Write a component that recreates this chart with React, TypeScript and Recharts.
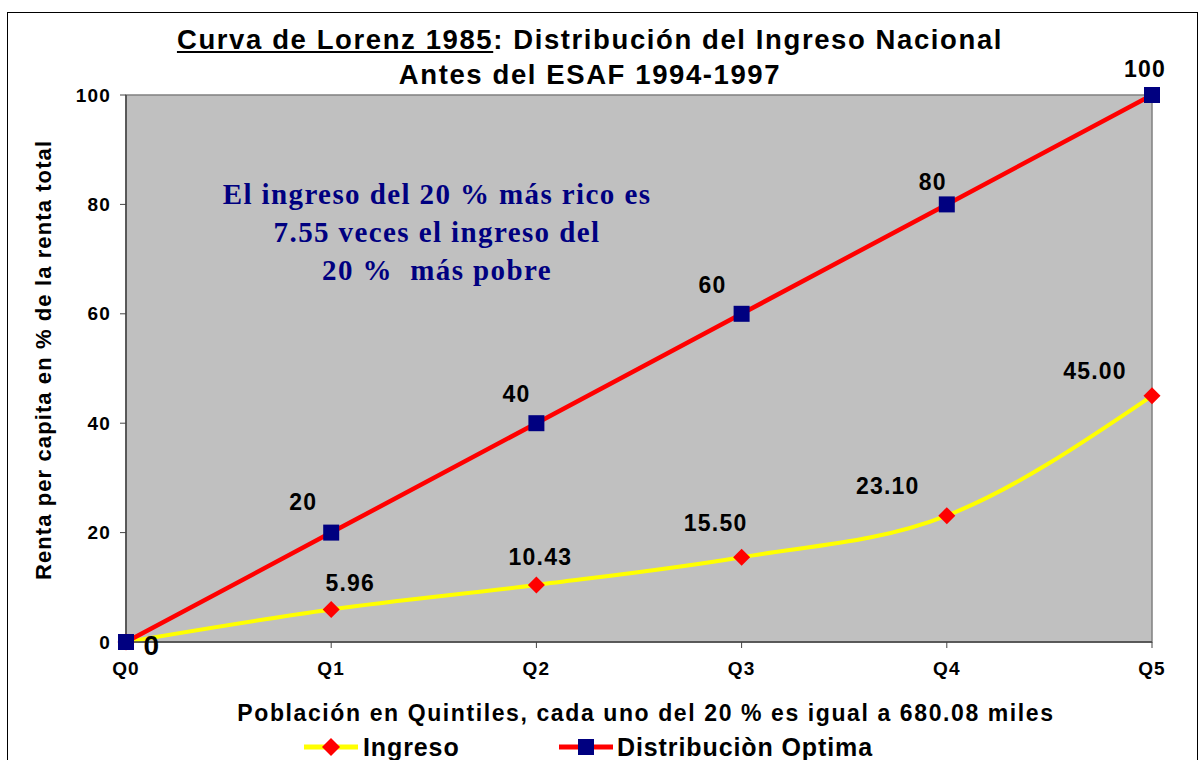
import { LineChart, Line, XAxis, YAxis, ReferenceArea, Legend } from "recharts";

const quintiles = ["Q0", "Q1", "Q2", "Q3", "Q4", "Q5"];
const ingreso = [0, 5.96, 10.43, 15.5, 23.1, 45.0];
const optima = [0, 20, 40, 60, 80, 100];
const yTicks = [0, 20, 40, 60, 80, 100];

// label offsets (dx, dy) from each point, as in the original sheet
const ingresoLabelShift = [[26, 3], [19, -26], [4, -28], [-26, -34], [-59, -30], [-57, -25]];
const optimaLabelShift = [null, [-28, -31], [-20, -29], [-29, -29], [-14, -22], [-7, -26]];

const data = quintiles.map((q, i) => ({ q, ingreso: ingreso[i], optima: optima[i] }));

const FONT = "'Liberation Sans', Arial, sans-serif";
const SERIF = "'Liberation Serif', 'Times New Roman', serif";

const Square = (props: any) => {
  const { cx, cy } = props;
  if (cx == null || cy == null) return null;
  return <rect x={cx - 8} y={cy - 8} width={16} height={16} fill="#000080" />;
};

const Diamond = (props: any) => {
  const { cx, cy } = props;
  if (cx == null || cy == null) return null;
  return (
    <polygon
      points={`${cx},${cy - 8.5} ${cx + 8.5},${cy} ${cx},${cy + 8.5} ${cx - 8.5},${cy}`}
      fill="#FF0000"
    />
  );
};

const makeLabel = (shift: (number[] | null)[], fmt: (v: number) => string) => (props: any) => {
  const { x, y, index, value } = props;
  const s = shift[index];
  if (!s) return null;
  const big = value === 0;
  return (
    <text
      x={x + s[0]}
      y={y + s[1]}
      textAnchor="middle"
      dominantBaseline="central"
      fontFamily={FONT}
      fontWeight="bold"
      fontSize={big ? 28 : 23}
      letterSpacing={1.2}
      fill="#000"
    >
      {fmt(value)}
    </text>
  );
};

const tickStyle = {
  fontFamily: FONT,
  fontWeight: 700,
  fontSize: 19,
  letterSpacing: 1.2,
  fill: "#000",
};

const renderXTick = (props: any) => (
  <text
    key={`xt-${props.index}`}
    x={props.x}
    y={668}
    textAnchor="middle"
    dominantBaseline="central"
    style={tickStyle}
  >
    {props.payload.value}
  </text>
);

const renderYTick = (props: any) => (
  <text
    key={`yt-${props.index}`}
    x={111}
    y={props.y}
    textAnchor="end"
    dominantBaseline="central"
    style={tickStyle}
  >
    {props.payload.value}
  </text>
);

const LegendBox = () => (
  <div
    style={{
      position: "relative",
      height: 26,
      fontFamily: FONT,
      fontWeight: "bold",
      fontSize: 25,
      letterSpacing: 0.9,
      color: "#000",
    }}
  >
    <svg width={54} height={22} style={{ position: "absolute", left: 304, top: 2 }}>
      <line x1={0} y1={11} x2={54} y2={11} stroke="#FFFF00" strokeWidth={5} />
      <polygon points="27,2 36,11 27,20 18,11" fill="#FF0000" />
    </svg>
    <span style={{ position: "absolute", left: 363, top: -2, lineHeight: "30px" }}>Ingreso</span>
    <svg width={54} height={22} style={{ position: "absolute", left: 559, top: 2 }}>
      <line x1={0} y1={11} x2={54} y2={11} stroke="#FF0000" strokeWidth={5} />
      <rect x={19} y={3} width={16} height={16} fill="#000080" />
    </svg>
    <span style={{ position: "absolute", left: 617, top: -2, lineHeight: "30px", whiteSpace: "nowrap" }}>
      Distribuciòn Optima
    </span>
  </div>
);

export default function App() {
  return (
    <div
      style={{
        position: "absolute",
        left: 0,
        top: 0,
        width: 1198,
        height: 760,
        overflow: "hidden",
        background: "#fff",
      }}
    >
      <div
        style={{
          position: "absolute",
          left: 7,
          top: 12,
          width: 1189,
          height: 800,
          border: "1.5px solid #000",
        }}
      />
      <div
        style={{
          position: "absolute",
          left: 0,
          top: 22,
          width: 1180,
          textAlign: "center",
          fontFamily: FONT,
          fontWeight: "bold",
          fontSize: 27.5,
          letterSpacing: 1.6,
          lineHeight: "35px",
          color: "#000",
        }}
      >
        <div>
          <span style={{ textDecoration: "underline" }}>Curva de Lorenz 1985</span>: Distribución del Ingreso Nacional
        </div>
        <div>Antes del ESAF 1994-1997</div>
      </div>
      <LineChart
        width={1198}
        height={760}
        data={data}
        margin={{ top: 95, right: 46, left: 66, bottom: 62 }}
        style={{ position: "absolute", left: 0, top: 0 }}
      >
        <ReferenceArea
          x1="Q0"
          x2="Q5"
          y1={0}
          y2={100}
          fill="#C0C0C0"
          fillOpacity={1}
          stroke="#808080"
          strokeWidth={1.5}
        />
        <XAxis
          dataKey="q"
          height={30}
          axisLine={{ stroke: "#444", strokeWidth: 1.5 }}
          tickLine={{ stroke: "#444" }}
          tickSize={6}
          interval={0}
          tick={renderXTick}
          label={() => (
            <text
              x={646}
              y={713}
              textAnchor="middle"
              dominantBaseline="central"
              fontFamily={FONT}
              fontWeight="bold"
              fontSize={23}
              letterSpacing={1.6}
              fill="#000"
            >
              Población en Quintiles, cada uno del 20 % es igual a 680.08 miles
            </text>
          )}
        />
        <YAxis
          width={60}
          domain={[0, 100]}
          ticks={yTicks}
          axisLine={{ stroke: "#444", strokeWidth: 1.5 }}
          tickLine={{ stroke: "#444" }}
          tickSize={6}
          tick={renderYTick}
          label={() => (
            <text
              x={43}
              y={360}
              transform="rotate(-90 43 360)"
              textAnchor="middle"
              dominantBaseline="central"
              fontFamily={FONT}
              fontWeight="bold"
              fontSize={22}
              letterSpacing={1.1}
              fill="#000"
            >
              Renta per capita en % de la renta total
            </text>
          )}
        />
        <Legend
          verticalAlign="bottom"
          content={() => <LegendBox />}
          wrapperStyle={{ left: 0, top: 734, width: 1198, height: 26 }}
        />
        <Line
          dataKey="ingreso"
          name="Ingreso"
          type="monotone"
          stroke="#FFFF00"
          strokeWidth={4}
          dot={<Diamond />}
          activeDot={false}
          label={makeLabel(ingresoLabelShift, (v) => (v === 0 ? "0" : v.toFixed(2)))}
          isAnimationActive={false}
        />
        <Line
          dataKey="optima"
          name="Distribuciòn Optima"
          type="linear"
          stroke="#FF0000"
          strokeWidth={4.5}
          dot={<Square />}
          activeDot={false}
          label={makeLabel(optimaLabelShift, (v) => String(v))}
          isAnimationActive={false}
        />
      </LineChart>
      <div
        style={{
          position: "absolute",
          left: 177,
          top: 175,
          width: 520,
          textAlign: "center",
          fontFamily: SERIF,
          fontWeight: "bold",
          fontSize: 29,
          letterSpacing: 1.4,
          lineHeight: "38px",
          color: "#000080",
        }}
      >
        <div>El ingreso del 20 % más rico es</div>
        <div>7.55 veces el ingreso del</div>
        <div style={{ whiteSpace: "pre" }}>20 %  más pobre</div>
      </div>
    </div>
  );
}
